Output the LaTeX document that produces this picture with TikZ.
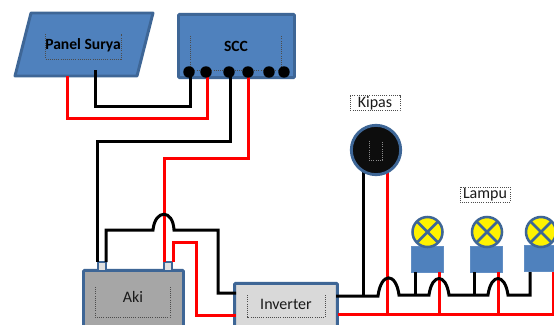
\documentclass[tikz,border=0pt]{standalone}
\usepackage{fontspec}
\setmainfont{Carlito}
\definecolor{bluefill}{HTML}{4F81BD}
\definecolor{blueline}{HTML}{3E6696}
\definecolor{wirered}{HTML}{FF0000}
\tikzset{
  wire/.style={line width=2.25pt,line join=miter},
  blk/.style={wire,draw=black},
  rd/.style={wire,draw=wirered},
  box/.style={draw=blueline,line width=2.2pt,outer sep=0pt,inner sep=0pt,rounded corners=0.8pt},
  hint/.style={draw=black!70,line width=0.6pt,densely dotted},
  lbl/.style={font=\fontsize{12}{13}\selectfont,text=black!90,inner sep=0pt,outer sep=0pt},
  lblb/.style={font=\fontsize{11.7}{13}\selectfont\bfseries,text=black,inner sep=0pt,outer sep=0pt},
  pin/.style={circle,fill=black,minimum size=8.6pt,inner sep=0pt,outer sep=0pt},
  lampbase/.style={fill=bluefill,draw=bluefill!90!white,line width=0.8pt,outer sep=0pt,inner sep=0pt,minimum width=24.5pt,minimum height=20pt},
  lamp/.style={circle,fill=yellow,draw=blueline,line width=1.9pt,minimum size=22.5pt,inner sep=0pt,outer sep=0pt},
  term/.style={fill=black!12,draw=blueline,line width=1.6pt,minimum size=6.4pt,inner sep=0pt,outer sep=0pt},
}
\begin{document}
\begin{tikzpicture}[x=0.75pt,y=-0.75pt]
\useasboundingbox (0,0) rectangle (554,325);
\clip (0,0) rectangle (554,325);
\fill[white] (0,0) rectangle (554,325);

% boxes
\draw[fill=bluefill,draw=blueline,line width=2.2pt,line join=round] (31,13) -- (153,13) -- (137,76) -- (15,76) -- cycle;
\node[box,fill=bluefill,minimum width=87pt,minimum height=47.5pt] (scc) at (236.5,46) {};
\node[box,fill=black!35,minimum width=75pt,minimum height=52pt] (aki) at (133.5,305) {};
\node[box,fill=black!15,minimum width=77pt,minimum height=40pt] (inv) at (286,310) {};

% terminals
\node[term] (t1) at (102,266.5) {};
\node[term] (t2) at (168,266.5) {};

% anchor points on the panel and loads
\coordinate (panR) at (67,76);
\coordinate (panB) at (95,70);
\coordinate (invLB) at (236,293);
\coordinate (invLR) at (236,315);
\coordinate (invRB) at (336,296);
\coordinate (invRR) at (338,314);
\coordinate (kipB) at (363,172);
\coordinate (kipR) at (387,172);
\coordinate (p1) at (189.5,72);
\coordinate (p2) at (207,72);
\coordinate (p3) at (230,72);
\coordinate (p4) at (248,72);

% hint outlines around text
\draw[hint] (45,34) -- (45,59) -- (121,59) -- (121,34);
\draw[hint] (190,36) -- (190,70) -- (281,70) -- (281,36);
\draw[hint] (95,287) -- (95,317) -- (170,317) -- (170,287);
\draw[hint] (247,295) -- (247,317) -- (325,317) -- (325,295);

% panel to SCC
\draw[rd] (panR) -- (67,118) -- (207,118) -- (p2);
\draw[blk] (panB) -- (95,106) -- (190,106) -- (190,72);

% SCC to battery
\draw[rd] (p4) -- (248,158) -- (164,158) -- (164,262);
\draw[blk] (p3) -- (230,141) -- (97.5,141) -- (97.5,262);

% battery to inverter
\draw[rd] (173,262) -- (173,242) -- (196,242) -- (196,315) -- (invLR);
\draw[blk] (106,262) -- (106,230) -- (153,230) .. controls (155,209) and (173,209) .. (174,230) -- (218,230) -- (218,293) -- (invLB);

% pins
\foreach \n/\x in {q1/189,q2/206,q3/229,q4/248,q5/269,q6/284}
  \node[pin] (\n) at (\x,72) {};

% loads
\node[lampbase] (b1) at (427.5,259.5) {};
\node[lampbase] (b2) at (486.5,259.5) {};
\node[lampbase] (b3) at (541,258.5) {};
\foreach \n/\x in {l1/427.5,l2/487,l3/541} {
  \node[lamp] (\n) at (\x,232) {};
  \draw[blueline,line width=1.9pt] (\n.north west) -- (\n.south east) (\n.north east) -- (\n.south west);
}
\draw[rd] (invRR) -- (554,314);
\draw[rd] (kipR) -- (387,314);
\draw[rd] (439,272) -- (439,314);
\draw[rd] (498,272) -- (498,314);
\draw[rd] (553,272) -- (553,314);
\draw[blk] (invRB) -- (378,296) .. controls (381,272) and (396,272) .. (399,295) -- (429,295) .. controls (432,273) and (446,273) .. (449,295) -- (488,295) .. controls (491,273) and (505,273) .. (508,295) -- (530,295) -- (530,272);
\draw[blk] (kipB) -- (363,296);
\draw[blk] (415,272) -- (415,295);
\draw[blk] (474,272) -- (474,295);

% fan
\node[circle,fill=black!95,draw=blueline,line width=2.2pt,minimum size=37pt,inner sep=0pt,outer sep=0pt] (fan) at (376,150) {};
\draw[draw=white!55!black,line width=0.6pt,densely dotted] (369,141) -- (369,160) -- (382,160) -- (382,141);

% labels
\node[lblb] (tp) at (83,45.5) {Panel Surya};
\node[lblb] (ts) at (236,46) {SCC};
\node[lbl] (ta) at (133,297) {Aki};
\node[lbl] (ti) at (286,304) {Inverter};
\node[lbl] (tk) at (375,103.5) {Kipas};
\node[lbl] (tl) at (485,195) {Lampu};
\draw[hint] (350,95.5) rectangle (400,110);
\draw[hint] (460,187) rectangle (510,202);
\end{tikzpicture}
\end{document}
